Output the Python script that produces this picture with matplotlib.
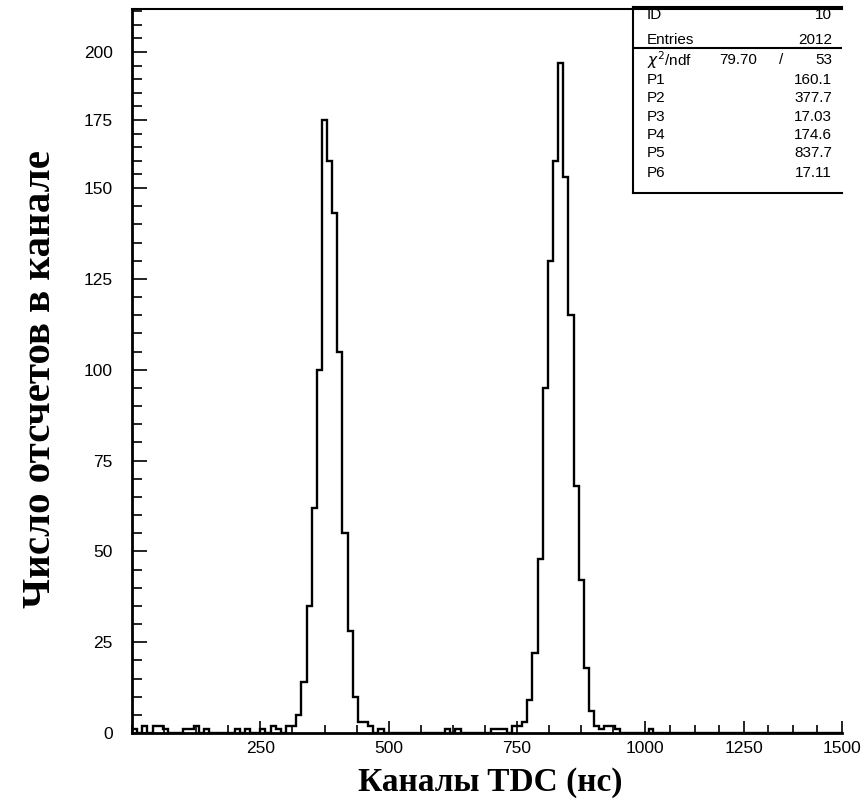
#!/usr/bin/env python3
# TDC spectrum, two peaks (PAW style histogram)

import numpy as np
import matplotlib
matplotlib.use('Agg')
import matplotlib.pyplot as plt
from matplotlib.scale import FuncScale
from matplotlib.ticker import MultipleLocator, FixedLocator

# histogram: 150 channels of width 10 between 0 and 1500
bin_width = 10
x_max = 1500

peak1_start = 310
peak1_counts = [2, 5, 14, 35, 62, 100, 175, 160, 143, 105, 55, 28, 10, 3]

peak2_start = 750
peak2_counts = [2, 3, 9, 22, 48, 95, 130, 160, 196, 154, 115, 68, 42, 18, 6, 2, 1, 2]

bg_chan = [0, 20, 40, 50, 60, 100, 110, 120, 140, 200, 220, 250, 270, 280, 300,
           450, 460, 480, 610, 630, 700, 710, 720, 740, 930, 940, 1010]
bg_counts = [1, 2, 2, 2, 1, 1, 1, 2, 1, 1, 1, 1, 2, 1, 2,
             3, 2, 1, 1, 1, 1, 1, 1, 2, 2, 1, 1]

x_ticks = [250, 500, 750, 1000, 1250, 1500]
y_ticks = [0, 25, 50, 75, 100, 125, 150, 175, 200]

stat_names = ['ID', 'Entries', 'P1', 'P2', 'P3', 'P4', 'P5', 'P6']
stat_values = ['10', '2012', '160.1', '377.7', '17.03', '174.6', '837.7', '17.11']
chi2, ndf = '79.70', '53'


def xfwd(v):
    v = np.asarray(v, float)
    return np.where(v <= 1000, v, 1000 + (v - 1000) * 0.766)


def xinv(u):
    u = np.asarray(u, float)
    return np.where(u <= 1000, u, 1000 + (u - 1000) / 0.766)


def yfwd(v):
    v = np.asarray(v, float)
    return np.where(v <= 150, v, 150 + (v - 150) * 0.749)


def yinv(u):
    u = np.asarray(u, float)
    return np.where(u <= 150, u, 150 + (u - 150) / 0.749)


def build_counts():
    counts = np.zeros(x_max // bin_width)
    for c, n in zip(bg_chan, bg_counts):
        counts[c // bin_width] = n
    for i, n in enumerate(peak1_counts):
        counts[peak1_start // bin_width + i] = n
    for i, n in enumerate(peak2_counts):
        counts[peak2_start // bin_width + i] = n
    return counts


def main():
    W, H = 866, 808
    fig = plt.figure(figsize=(W / 100, H / 100), dpi=100)
    ax = fig.add_axes([132 / W, 1 - 733 / H, (842 - 132) / W, (733 - 9) / H])

    counts = build_counts()
    edges = np.arange(0, x_max + 1, bin_width)
    ax.stairs(counts, edges, color='black', lw=1.7)

    ax.set_xscale(FuncScale(ax, (xfwd, xinv)))
    ax.set_yscale(FuncScale(ax, (yfwd, yinv)))
    ax.set_xlim(0, x_max)
    ax.set_ylim(0, 215.8)

    ax.xaxis.set_major_locator(FixedLocator(x_ticks))
    ax.xaxis.set_minor_locator(MultipleLocator(62.5))
    ax.yaxis.set_major_locator(FixedLocator(y_ticks))
    ax.yaxis.set_minor_locator(MultipleLocator(5))
    ax.set_xticklabels([str(t) for t in x_ticks])
    ax.set_yticklabels([str(t) for t in y_ticks])

    ax.tick_params(axis='both', which='both', direction='in', width=1.2,
                   labelsize=12.5, colors='black')
    ax.tick_params(axis='y', which='major', length=11, pad=14)
    ax.tick_params(axis='y', which='minor', length=7)
    ax.tick_params(axis='x', which='major', length=9, pad=6)
    ax.tick_params(axis='x', which='minor', length=6)
    for lab in ax.get_xticklabels() + ax.get_yticklabels():
        lab.set_family('Liberation Sans')

    ax.spines['right'].set_visible(False)
    ax.spines['left'].set_linewidth(2)
    ax.spines['bottom'].set_linewidth(2)
    ax.spines['top'].set_linewidth(1.5)

    fig.text(490 / W, 1 - 782 / H, 'Каналы TDC (нс)', family='Liberation Serif',
             weight='bold', fontsize=24, ha='center', va='center')
    fig.text(41 / W, 1 - 379 / H, 'Число отсчетов в канале', family='Liberation Serif',
             weight='bold', fontsize=29.5, ha='center', va='center', rotation=90)

    # stats box
    sb = fig.add_axes([633 / W, 1 - 193 / H, (842 - 633) / W, (193 - 7) / H])
    sb.set_xticks([])
    sb.set_yticks([])
    sb.patch.set_alpha(0)
    sb.spines['right'].set_visible(False)
    for s in ('left', 'top', 'bottom'):
        sb.spines[s].set_linewidth(1.5)
    sb.axhline(0.780, color='black', lw=1.5)

    tk = dict(family='Liberation Sans', fontsize=11, va='center')
    rows = [0.957, 0.823, 0.608, 0.511, 0.409, 0.312, 0.215, 0.108]
    for name, val, y in zip(stat_names, stat_values, rows):
        sb.text(0.067, y, name, ha='left', **tk)
        sb.text(0.952, y, val, ha='right', **tk)
    sb.text(0.067, 0.715, r'$\chi^2$/ndf', ha='left', **tk)
    sb.text(0.593, 0.715, chi2, ha='right', **tk)
    sb.text(0.708, 0.715, '/', ha='center', **tk)
    sb.text(0.952, 0.715, ndf, ha='right', **tk)

    fig.savefig('out.png', dpi=100)


if __name__ == "__main__":
    main()
